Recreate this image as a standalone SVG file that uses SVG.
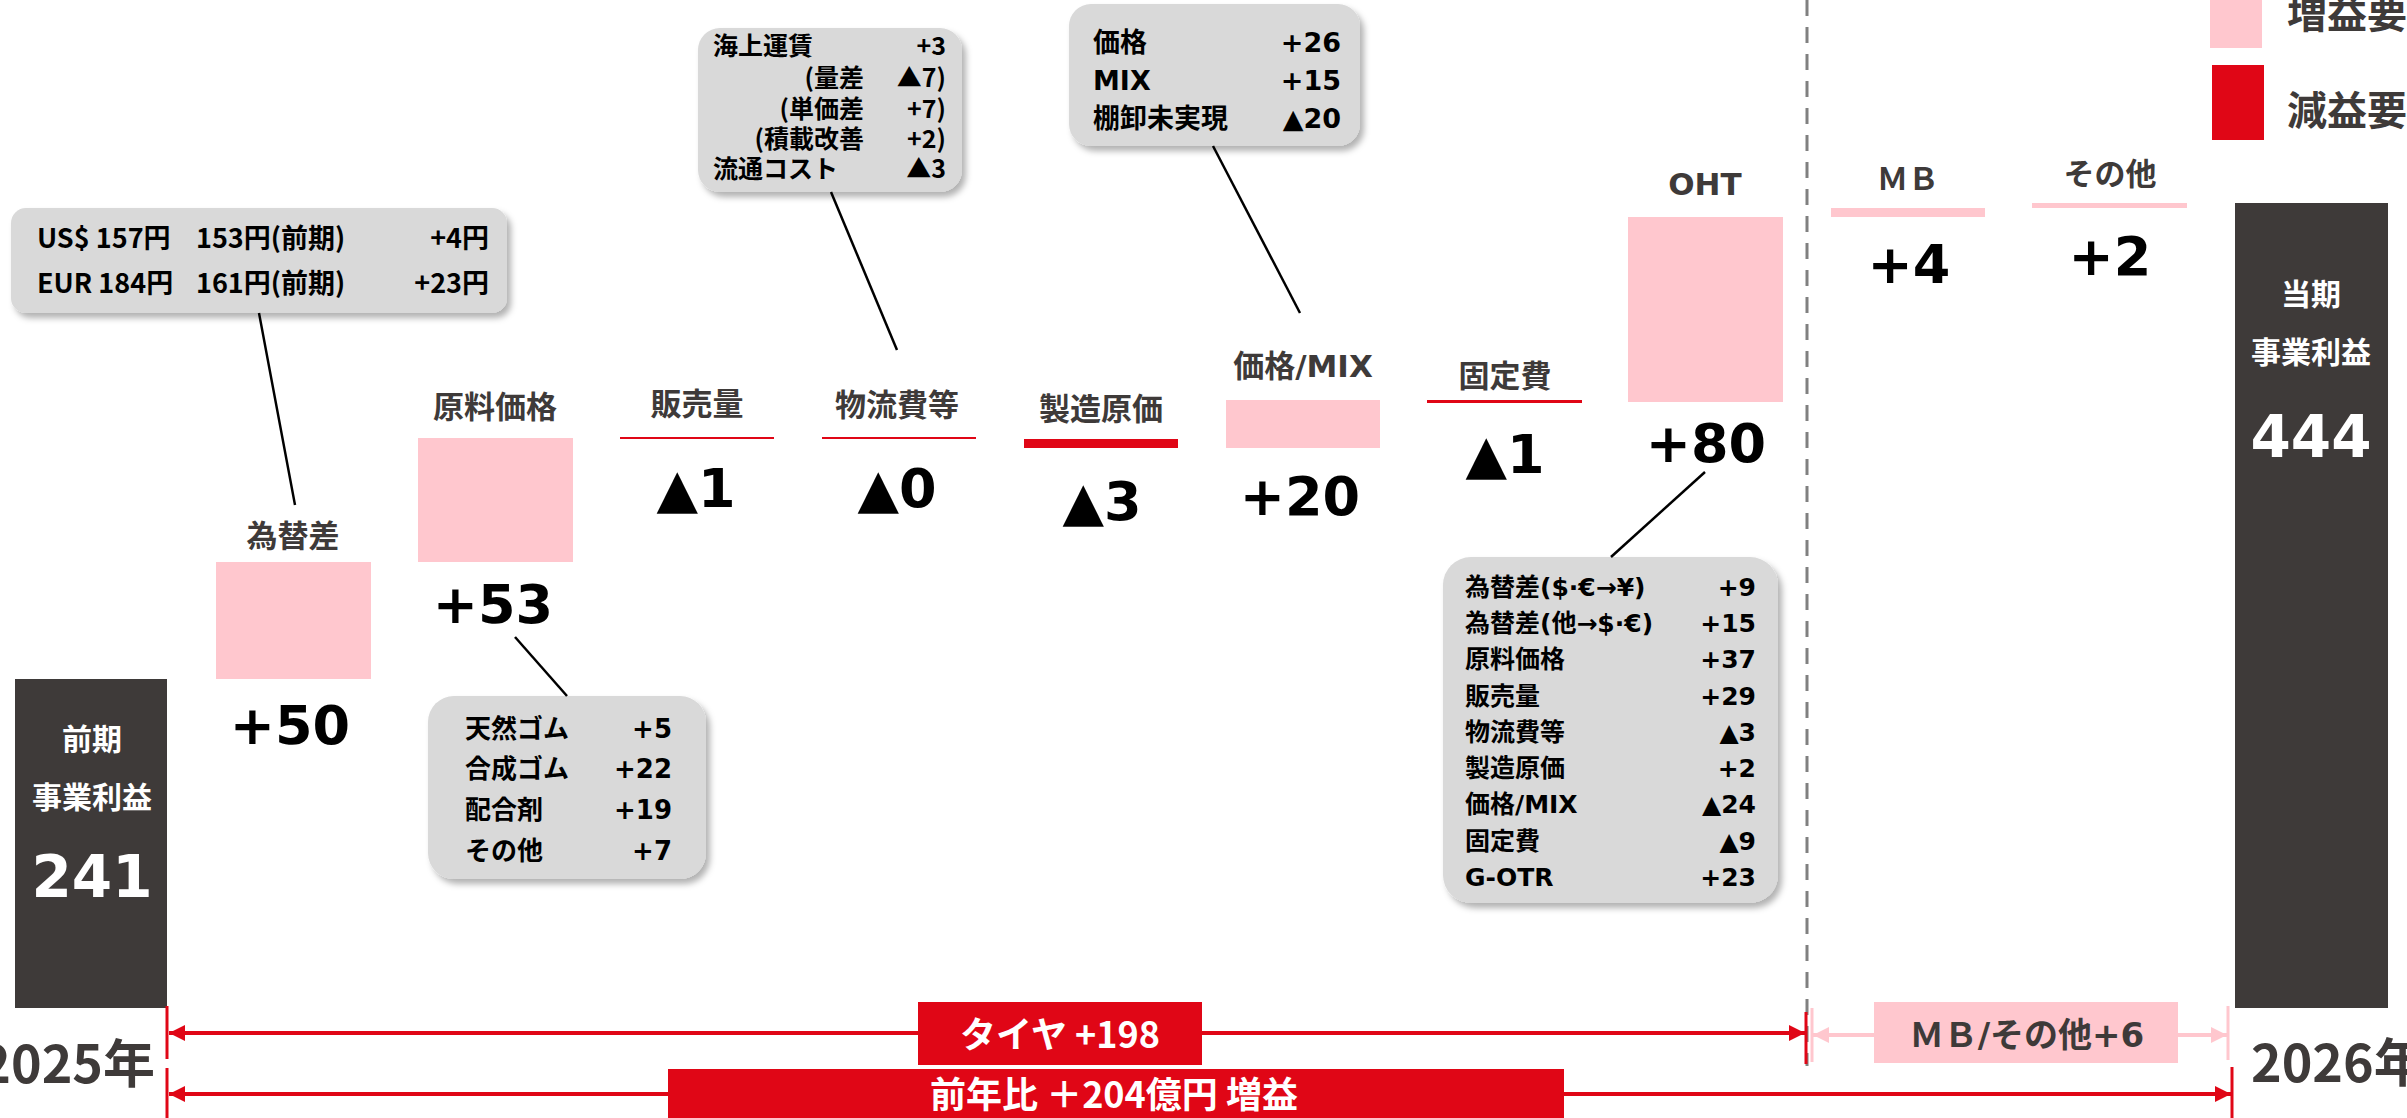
<svg xmlns="http://www.w3.org/2000/svg" width="2407" height="1118" viewBox="0 0 2407 1118">
<style>
.lab{font-family:"DejaVu Sans","Noto Sans CJK JP",sans-serif;font-weight:bold;font-size:31px;fill:#3e3a39;text-anchor:middle}
.big{font-family:"DejaVu Sans","Noto Sans CJK JP",sans-serif;font-weight:bold;font-size:54px;fill:#000;text-anchor:middle}
.wt{font-family:"Noto Sans CJK JP",sans-serif;font-weight:bold;font-size:30px;fill:#fff;text-anchor:middle}
.wn{font-family:"DejaVu Sans","Noto Sans CJK JP",sans-serif;font-weight:bold;font-size:58px;fill:#fff;text-anchor:middle}
.cn{font-family:"Noto Sans CJK JP",sans-serif;font-weight:bold;fill:#000}
.cv{font-family:"DejaVu Sans","Noto Sans CJK JP",sans-serif;font-weight:bold;fill:#000}
.end{text-anchor:end}
.box{fill:#d9d9d9;filter:url(#sh)}
.pink{fill:#ffc7ce}
.red{fill:#e00616}
.dark{fill:#3e3a39}
.conn{stroke:#000;stroke-width:2.5;fill:none}
.yr{font-family:"Noto Sans CJK JP",sans-serif;font-weight:bold;font-size:52px;fill:#3e3a39}
</style>
<defs>
<filter id="sh" x="-10%" y="-10%" width="130%" height="130%">
<feDropShadow dx="4" dy="5" stdDeviation="3" flood-color="#000" flood-opacity="0.3"/>
</filter>
<marker id="ar" viewBox="0 0 10 10" refX="10" refY="5" markerWidth="16" markerHeight="16" markerUnits="userSpaceOnUse" orient="auto-start-reverse">
<path d="M0,0 L10,5 L0,10 z" fill="#e00616"/>
</marker>
<marker id="ap" viewBox="0 0 10 10" refX="10" refY="5" markerWidth="16" markerHeight="16" markerUnits="userSpaceOnUse" orient="auto-start-reverse">
<path d="M0,0 L10,5 L0,10 z" fill="#ffc7ce"/>
</marker>
</defs>
<rect width="2407" height="1118" fill="#fff"/>

<!-- dashed separator -->
<line x1="1807" y1="0" x2="1807" y2="1066" stroke="#808080" stroke-width="3" stroke-dasharray="16 11"/>

<!-- legend -->
<g id="legend">
<rect class="pink" x="2210" y="-5" width="52" height="53"/>
<text class="lab" style="text-anchor:start;font-size:40px" x="2287" y="28">増益要因</text>
<rect class="red" x="2212" y="65" width="52" height="75"/>
<text class="lab" style="text-anchor:start;font-size:40px" x="2287" y="125">減益要因</text>
</g>

<g id="n-prev">
<rect class="dark" x="15" y="679" width="152" height="329"/>
<text class="wt" x="92" y="750">前期</text>
<text class="wt" x="92" y="808">事業利益</text>
<text class="wn" x="92" y="897">241</text>
</g>

<g id="n-fx">
<text class="lab" x="293" y="547">為替差</text>
<rect class="pink" x="216" y="562" width="155" height="117"/>
<text class="big" x="290" y="744">+50</text>
</g>

<g id="n-raw">
<text class="lab" x="495" y="418">原料価格</text>
<rect class="pink" x="418" y="438" width="155" height="124"/>
<text class="big" x="493" y="623">+53</text>
</g>

<g id="n-vol">
<text class="lab" x="697" y="415">販売量</text>
<rect class="red" x="620" y="437" width="154" height="2"/>
<text class="big" x="696" y="507">▲1</text>
</g>

<g id="n-log">
<text class="lab" x="897" y="416">物流費等</text>
<rect class="red" x="822" y="437" width="154" height="2"/>
<text class="big" x="897" y="507">▲0</text>
</g>

<g id="n-mfg">
<text class="lab" x="1101" y="420">製造原価</text>
<rect class="red" x="1024" y="439" width="154" height="9"/>
<text class="big" x="1102" y="520">▲3</text>
</g>

<g id="n-mix">
<text class="lab" x="1303" y="377">価格/MIX</text>
<rect class="pink" x="1226" y="400" width="154" height="48"/>
<text class="big" x="1300" y="515">+20</text>
</g>

<g id="n-fixed">
<text class="lab" x="1505" y="387">固定費</text>
<rect class="red" x="1427" y="400" width="155" height="3"/>
<text class="big" x="1505" y="473">▲1</text>
</g>

<g id="n-oht">
<text class="lab" x="1705" y="195">OHT</text>
<rect class="pink" x="1628" y="217" width="155" height="185"/>
<text class="big" x="1706" y="462">+80</text>
</g>

<g id="n-mb">
<text class="lab" x="1908" y="190">ＭＢ</text>
<rect class="pink" x="1831" y="208" width="154" height="9"/>
<text class="big" x="1909" y="283">+4</text>
</g>

<g id="n-other">
<text class="lab" x="2110" y="185">その他</text>
<rect class="pink" x="2032" y="203" width="155" height="5"/>
<text class="big" x="2110" y="275">+2</text>
</g>

<g id="n-cur">
<rect class="dark" x="2235" y="203" width="153" height="805"/>
<text class="wt" x="2311" y="305">当期</text>
<text class="wt" x="2311" y="363">事業利益</text>
<text class="wn" x="2311" y="457">444</text>
</g>

<!-- callouts -->
<g id="callout-fx">
<rect class="box" x="11" y="208" width="496" height="105" rx="15"/>
<text class="cn" font-size="27" x="37" y="248">US$ 157円</text>
<text class="cn" font-size="27" x="196" y="248">153円(前期)</text>
<text class="cn end" font-size="27" x="489" y="248">+4円</text>
<text class="cn" font-size="27" x="37" y="293">EUR 184円</text>
<text class="cn" font-size="27" x="196" y="293">161円(前期)</text>
<text class="cn end" font-size="27" x="489" y="293">+23円</text>
</g>

<g id="callout-raw">
<rect class="box" x="428" y="696" width="278" height="183" rx="26"/>
<text class="cv" font-size="26" x="465" y="738">天然ゴム</text><text class="cv end" font-size="26" x="672" y="738">+5</text>
<text class="cv" font-size="26" x="465" y="778">合成ゴム</text><text class="cv end" font-size="26" x="672" y="778">+22</text>
<text class="cv" font-size="26" x="465" y="819">配合剤</text><text class="cv end" font-size="26" x="672" y="819">+19</text>
<text class="cv" font-size="26" x="465" y="860">その他</text><text class="cv end" font-size="26" x="672" y="860">+7</text>
</g>

<g id="callout-log">
<rect class="box" x="698" y="28" width="264" height="164" rx="22"/>
<text class="cn" font-size="25" x="713" y="55">海上運賃</text><text class="cn end" font-size="25" x="946" y="55">+3</text>
<text class="cn end" font-size="25" x="864" y="87">(量差</text><text class="cn end" font-size="25" x="946" y="87">▲7)</text>
<text class="cn end" font-size="25" x="864" y="118">(単価差</text><text class="cn end" font-size="25" x="946" y="118">+7)</text>
<text class="cn end" font-size="25" x="864" y="148">(積載改善</text><text class="cn end" font-size="25" x="946" y="148">+2)</text>
<text class="cn" font-size="25" x="713" y="178">流通コスト</text><text class="cn end" font-size="25" x="946" y="178">▲3</text>
</g>

<g id="callout-mix">
<rect class="box" x="1069" y="4" width="291" height="142" rx="22"/>
<text class="cv" font-size="27" x="1093" y="52">価格</text><text class="cv end" font-size="27" x="1341" y="52">+26</text>
<text class="cv" font-size="27" x="1093" y="90">MIX</text><text class="cv end" font-size="27" x="1341" y="90">+15</text>
<text class="cv" font-size="27" x="1093" y="128">棚卸未実現</text><text class="cv end" font-size="27" x="1341" y="128">▲20</text>
</g>

<g id="callout-oht">
<rect class="box" x="1443" y="557" width="335" height="346" rx="28"/>
<text class="cv" font-size="25" x="1465" y="596">為替差($·€→¥)</text><text class="cv end" font-size="25" x="1756" y="596">+9</text>
<text class="cv" font-size="25" x="1465" y="632">為替差(他→$·€)</text><text class="cv end" font-size="25" x="1756" y="632">+15</text>
<text class="cv" font-size="25" x="1465" y="668">原料価格</text><text class="cv end" font-size="25" x="1756" y="668">+37</text>
<text class="cv" font-size="25" x="1465" y="705">販売量</text><text class="cv end" font-size="25" x="1756" y="705">+29</text>
<text class="cv" font-size="25" x="1465" y="741">物流費等</text><text class="cv end" font-size="25" x="1756" y="741">▲3</text>
<text class="cv" font-size="25" x="1465" y="777">製造原価</text><text class="cv end" font-size="25" x="1756" y="777">+2</text>
<text class="cv" font-size="25" x="1465" y="813">価格/MIX</text><text class="cv end" font-size="25" x="1756" y="813">▲24</text>
<text class="cv" font-size="25" x="1465" y="850">固定費</text><text class="cv end" font-size="25" x="1756" y="850">▲9</text>
<text class="cv" font-size="25" x="1465" y="886">G-OTR</text><text class="cv end" font-size="25" x="1756" y="886">+23</text>
</g>

<g id="connectors">
<line class="conn" x1="259" y1="313" x2="295" y2="505"/>
<line class="conn" x1="515" y1="637" x2="567" y2="696"/>
<line class="conn" x1="831" y1="192" x2="897" y2="350"/>
<line class="conn" x1="1213" y1="146" x2="1300" y2="313"/>
<line class="conn" x1="1705" y1="472" x2="1611" y2="557"/>
<!-- range arrows -->
<line x1="167" y1="1006" x2="167" y2="1059" stroke="#e00616" stroke-width="3"/>
<line x1="167" y1="1068" x2="167" y2="1118" stroke="#e00616" stroke-width="3"/>
<line x1="1806" y1="1012" x2="1806" y2="1064" stroke="#e00616" stroke-width="3"/>
<line x1="2232" y1="1067" x2="2232" y2="1118" stroke="#e00616" stroke-width="3"/>
<line x1="169" y1="1033" x2="1805" y2="1033" stroke="#e00616" stroke-width="4" marker-start="url(#ar)" marker-end="url(#ar)"/>
<line x1="169" y1="1094" x2="2231" y2="1094" stroke="#e00616" stroke-width="4" marker-start="url(#ar)" marker-end="url(#ar)"/>
<line x1="1812" y1="1008" x2="1812" y2="1062" stroke="#ffc7ce" stroke-width="3"/>
<line x1="2228" y1="1006" x2="2228" y2="1060" stroke="#ffc7ce" stroke-width="3"/>
<line x1="1813" y1="1035" x2="2227" y2="1035" stroke="#ffc7ce" stroke-width="4" marker-start="url(#ap)" marker-end="url(#ap)"/>
</g>

<g id="label-tire">
<rect class="red" x="918" y="1002" width="284" height="63"/>
<text x="1060" y="1048" font-family="Noto Sans CJK JP, sans-serif" font-weight="bold" font-size="36" fill="#fff" text-anchor="middle">タイヤ +198</text>
</g>
<g id="label-total">
<rect class="red" x="668" y="1069" width="896" height="55"/>
<text x="1114" y="1108" font-family="Noto Sans CJK JP, sans-serif" font-weight="bold" font-size="36" fill="#fff" text-anchor="middle">前年比 ＋204億円 増益</text>
</g>
<g id="label-mb">
<rect class="pink" x="1874" y="1002" width="304" height="61"/>
<text x="2027" y="1047" font-family="DejaVu Sans, Noto Sans CJK JP, sans-serif" font-weight="bold" font-size="34" fill="#3e3a39" text-anchor="middle">ＭＢ/その他+6</text>
</g>

<text class="yr" x="155" y="1083" text-anchor="end">2025年</text>
<text class="yr" x="2251" y="1082">2026年</text>
</svg>
